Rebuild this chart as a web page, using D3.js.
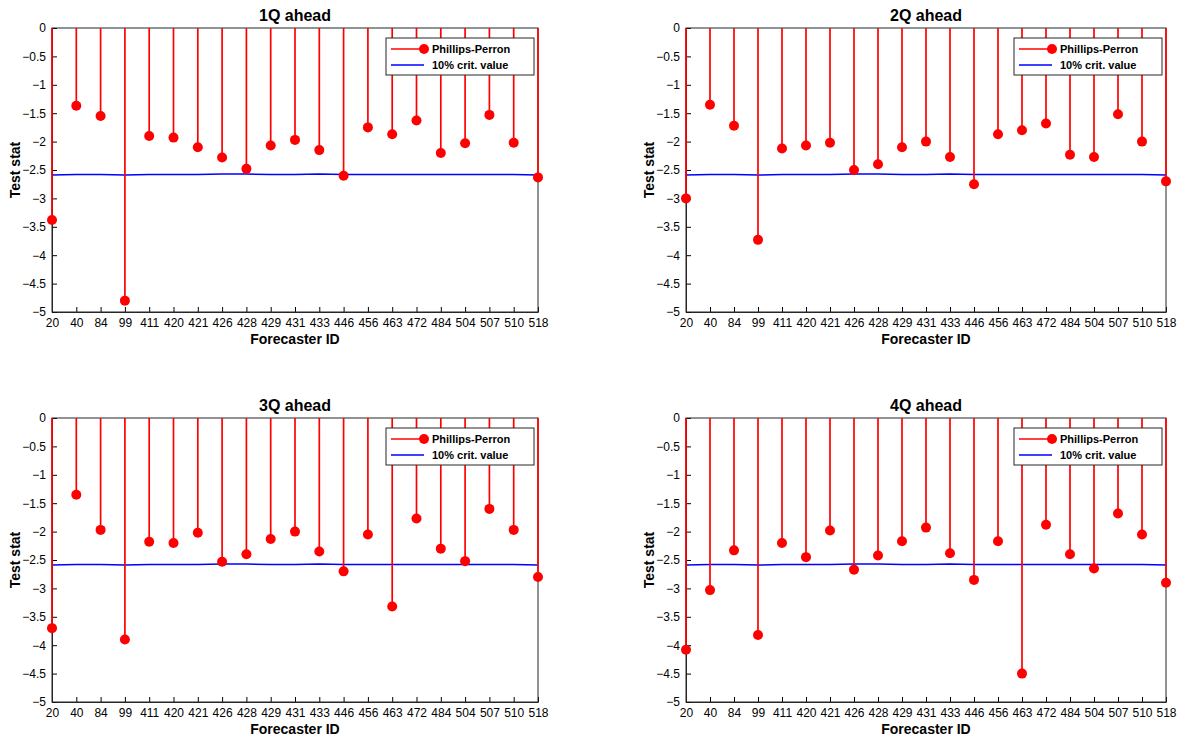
<!DOCTYPE html>
<html><head><meta charset="utf-8">
<script src="https://cdn.jsdelivr.net/npm/d3@7"></script>
<style>body{margin:0;background:#fff}text{font-family:Arial,"Liberation Sans",sans-serif}</style>
</head><body><svg id="c" width="1178" height="736"></svg>
<script>
const ids = ['20','40','84','99','411','420','421','426','428','429','431','433','446','456','463','472','484','504','507','510','518'];
const pp1 = [-3.38,-1.37,-1.55,-4.8,-1.9,-1.93,-2.1,-2.28,-2.48,-2.07,-1.97,-2.15,-2.6,-1.75,-1.87,-1.63,-2.2,-2.03,-1.53,-2.02,-2.63];
const pp2 = [-3.0,-1.35,-1.72,-3.73,-2.12,-2.07,-2.02,-2.5,-2.4,-2.1,-2.0,-2.27,-2.75,-1.87,-1.8,-1.68,-2.23,-2.27,-1.52,-2.0,-2.7];
const pp3 = [-3.7,-1.35,-1.97,-3.9,-2.18,-2.2,-2.02,-2.53,-2.4,-2.13,-2.0,-2.35,-2.7,-2.05,-3.32,-1.77,-2.3,-2.52,-1.6,-1.97,-2.8];
const pp4 = [-4.08,-3.03,-2.33,-3.82,-2.2,-2.45,-1.98,-2.67,-2.42,-2.17,-1.93,-2.38,-2.85,-2.17,-4.5,-1.88,-2.4,-2.65,-1.68,-2.05,-2.9];
const crit = [-2.59,-2.58,-2.58,-2.59,-2.58,-2.58,-2.58,-2.57,-2.57,-2.58,-2.58,-2.57,-2.58,-2.58,-2.58,-2.58,-2.58,-2.58,-2.58,-2.58,-2.59];
const yTicks = [0,-0.5,-1,-1.5,-2,-2.5,-3,-3.5,-4,-4.5,-5];
const titles = ['1Q ahead','2Q ahead','3Q ahead','4Q ahead'];
const series = [pp1,pp2,pp3,pp4];
const origins = [[52,28],[686,28],[52,418],[686,418]];
const widths = [486,480,486,480];
const PH = 284;

const svg = d3.select('#c');
series.forEach((vals, k) => {
  const [ox, oy] = origins[k];
  const PW = widths[k];
  const g = svg.append('g').attr('transform', `translate(${ox},${oy})`);
  const x = d3.scalePoint().domain(ids).range([0, PW]);
  const y = d3.scaleLinear().domain([-5, 0]).range([PH, 0]);

  g.append('g').attr('transform', `translate(0,${PH})`)
    .call(d3.axisBottom(x).tickSizeInner(-5).tickSizeOuter(0).tickPadding(6))
    .call(a => a.selectAll('text').style('font-size', '12px'));
  g.append('g')
    .call(d3.axisLeft(y).tickValues(yTicks).tickFormat(d3.format('')).tickSizeInner(-5).tickSizeOuter(0).tickPadding(6))
    .call(a => a.selectAll('text').style('font-size', '12px'));
  g.append('rect').attr('width', PW).attr('height', PH).attr('fill', 'none').attr('stroke', '#262626');
  g.selectAll('.domain').attr('stroke', '#262626');

  g.append('path').datum(crit)
    .attr('d', d3.line().x((d, i) => x(ids[i])).y(d => y(d)))
    .attr('fill', 'none').attr('stroke', '#0000ff').attr('stroke-width', 1.5);

  g.selectAll('line.stem').data(vals).join('line')
    .attr('x1', (d, i) => x(ids[i])).attr('x2', (d, i) => x(ids[i]))
    .attr('y1', y(0)).attr('y2', d => y(d))
    .attr('stroke', '#ff0000').attr('stroke-width', 1.7);
  g.selectAll('circle').data(vals).join('circle')
    .attr('cx', (d, i) => x(ids[i])).attr('cy', d => y(d)).attr('r', 5).attr('fill', '#ff0000');

  g.append('text').attr('x', PW / 2).attr('y', -7).attr('text-anchor', 'middle')
    .style('font-size', '16px').style('font-weight', 'bold').text(titles[k]);
  g.append('text').attr('x', PW / 2).attr('y', PH + 32).attr('text-anchor', 'middle')
    .style('font-size', '14px').style('font-weight', 'bold').text('Forecaster ID');
  g.append('text').attr('transform', `translate(-32,${PH / 2}) rotate(-90)`).attr('text-anchor', 'middle')
    .style('font-size', '14px').style('font-weight', 'bold').text('Test stat');

  const lg = g.append('g').attr('transform', `translate(${PW - 152},10)`);
  lg.append('rect').attr('width', 148).attr('height', 37).attr('fill', '#fff').attr('stroke', '#262626');
  lg.append('line').attr('x1', 5).attr('x2', 38).attr('y1', 11).attr('y2', 11).attr('stroke', '#ff0000').attr('stroke-width', 1.7);
  lg.append('circle').attr('cx', 38).attr('cy', 11).attr('r', 5).attr('fill', '#ff0000');
  lg.append('text').attr('x', 46).attr('y', 15).style('font-size', '11px').style('font-weight', 'bold').text('Phillips-Perron');
  lg.append('line').attr('x1', 5).attr('x2', 38).attr('y1', 27).attr('y2', 27).attr('stroke', '#0000ff').attr('stroke-width', 1.5);
  lg.append('text').attr('x', 46).attr('y', 31).style('font-size', '11px').style('font-weight', 'bold').text('10% crit. value');
});
</script></body></html>
